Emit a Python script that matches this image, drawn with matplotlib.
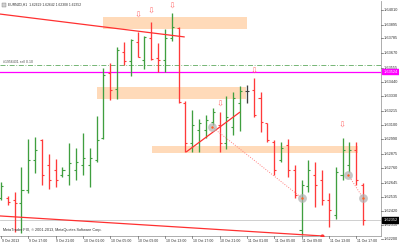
import matplotlib
matplotlib.use("Agg")
import matplotlib.pyplot as plt
import numpy as np

plt.rcParams["font.family"] = ["Liberation Sans", "DejaVu Sans"]

# ---------------- data ----------------
time_labels = ["9 Oct 2013", "9 Oct 17:00", "9 Oct 21:00", "10 Oct 01:00", "10 Oct 05:00",
               "10 Oct 09:00", "10 Oct 13:00", "10 Oct 17:00", "10 Oct 21:00", "11 Oct 01:00",
               "11 Oct 05:00", "11 Oct 09:00", "11 Oct 13:00", "11 Oct 17:00"]
price_ticks = [1.64010, 1.63895, 1.63785, 1.63670, 1.63555, 1.63440, 1.63330, 1.63215, 1.63100,
               1.62990, 1.62875, 1.62760, 1.62645, 1.62535, 1.62420, 1.62310, 1.62200]

opens = [1.62525, 1.62525, 1.62509, 1.62485, 1.62588, 1.62825, 1.62983, 1.62785, 1.62746, 1.62706,
         1.62706, 1.62746, 1.62785, 1.62785, 1.62825, 1.62999, 1.63512, 1.63386, 1.63678, 1.63607,
         1.63757, 1.63615, 1.63789, 1.63631, 1.63615, 1.63789, 1.63868, 1.63275, 1.62959, 1.63062,
         1.63062, 1.63125, 1.63101, 1.62959, 1.63086, 1.63275, 1.63370, 1.63378, 1.63315, 1.63117,
         1.62967, 1.62825, 1.62943, 1.62746, 1.62272, 1.62620, 1.62706, 1.62667, 1.62509, 1.62390,
         1.62706, 1.62785, 1.62904, 1.62629]
highs = [1.62651, 1.62541, 1.62572, 1.62770, 1.62991, 1.63007, 1.62991, 1.62872, 1.62833, 1.62770,
         1.62959, 1.62920, 1.63038, 1.62920, 1.63173, 1.63552, 1.63591, 1.63718, 1.63757, 1.63781,
         1.63836, 1.63805, 1.63915, 1.63749, 1.63860, 1.63986, 1.63876, 1.63291, 1.63220, 1.63149,
         1.63180, 1.63236, 1.63204, 1.63331, 1.63362, 1.63410, 1.63417, 1.63473, 1.63362, 1.63117,
         1.62983, 1.62967, 1.62991, 1.62785, 1.62667, 1.62825, 1.62809, 1.62746, 1.62564, 1.62770,
         1.62999, 1.62967, 1.62967, 1.62642]
lows = [1.62509, 1.62469, 1.62256, 1.62248, 1.62564, 1.62722, 1.62627, 1.62596, 1.62612, 1.62691,
        1.62627, 1.62667, 1.62706, 1.62612, 1.62809, 1.62991, 1.63299, 1.63307, 1.63575, 1.63489,
        1.63639, 1.63544, 1.63615, 1.63520, 1.63520, 1.63765, 1.63275, 1.62888, 1.62888, 1.62888,
        1.62999, 1.63101, 1.62888, 1.62912, 1.63022, 1.63054, 1.63275, 1.63165, 1.63046, 1.62967,
        1.62706, 1.62809, 1.62691, 1.62525, 1.62232, 1.62572, 1.62454, 1.62469, 1.62296, 1.62359,
        1.62667, 1.62730, 1.62627, 1.62308]
closes = [1.62620, 1.62493, 1.62485, 1.62588, 1.62825, 1.62904, 1.62706, 1.62667, 1.62667, 1.62746,
          1.62801, 1.62809, 1.62841, 1.62841, 1.62983, 1.63496, 1.63378, 1.63694, 1.63607, 1.63773,
          1.63639, 1.63797, 1.63623, 1.63615, 1.63789, 1.63876, 1.63283, 1.62959, 1.63101, 1.63117,
          1.63141, 1.63204, 1.62959, 1.63165, 1.63315, 1.63370, 1.63370, 1.63180, 1.63125, 1.62983,
          1.62746, 1.62920, 1.62746, 1.62548, 1.62627, 1.62746, 1.62627, 1.62509, 1.62430, 1.62730,
          1.62904, 1.62904, 1.62667, 1.62352]

# zones (bar index from/to, price low/high)
zone_x0 = [14.9, 14.05, 22.1]
zone_x1 = [36.0, 35.9, 52.3]
zone_lo = [1.63860, 1.63307, 1.62880]
zone_hi = [1.63955, 1.63402, 1.62936]

# trend lines (x0, p0, x1, p1)
upper_line = [-0.15, 1.63978, 26.9, 1.63797]
mid_line = [27.1, 1.62888, 35.0, 1.63204]
lower_line = [-0.15, 1.62383, 47.0, 1.62225]
dot_line1 = [30.9, 1.63086, 44.0, 1.62527]
dot_line2 = [50.85, 1.62706, 53.05, 1.62522]
circle_x = [30.9, 44.0, 50.85, 53.05]
circle_p = [1.63086, 1.62527, 1.62706, 1.62522]

order_price = 1.63573
magenta_price = 1.63524
bid_price = 1.62352

arrow_x = [20, 22, 25, 37, 32, 50]
arrow_p = [1.63970, 1.64002, 1.64042, 1.63528, 1.63267, 1.63101]

# ---------------- figure ----------------
W, H = 399, 249
fig = plt.figure(figsize=(W / 100, H / 100), dpi=100)
ax_left, ax_right, ax_top, ax_bottom = 0, 381, 1, 236
ax = fig.add_axes([ax_left / W, (H - ax_bottom) / H, (ax_right - ax_left) / W, (ax_bottom - ax_top) / H])
px_per_bar = 6.83
x0_px = 1.0
ax.set_xlim((ax_left - x0_px) / px_per_bar, (ax_right - x0_px) / px_per_bar)
p_per_px = 0.000079
p_top = 1.64089
ax.set_ylim(p_top - ax_bottom * p_per_px, p_top - ax_top * p_per_px)
ax.set_xticks([])
ax.set_yticks([])
for s in ax.spines.values():
    s.set_color("#a0a0a0")
    s.set_linewidth(0.6)
ax.spines["top"].set_visible(False)
ax.spines["left"].set_visible(False)

green = "#3f9f3f"
red = "#ff3a3a"
peach = "#ffdab9"

for x0, x1, lo, hi in zip(zone_x0, zone_x1, zone_lo, zone_hi):
    ax.fill_between([x0, x1], lo, hi, color=peach, lw=0, zorder=1)

ax.axhline(bid_price, color="#c8c8c8", lw=0.6, zorder=1.5)
ax.axhline(order_price, color="#5faa5f", lw=0.6, ls=(0, (6, 2, 1, 2)), zorder=1.5)
ax.axhline(magenta_price, color="#ff00ff", lw=0.9, zorder=1.5)

n = len(opens)
for i in range(n):
    o, h, l, c = opens[i], highs[i], lows[i], closes[i]
    col = green if c > o else (red if c < o else "#404040")
    ax.vlines(i, l, h, color=col, lw=0.95, zorder=3)
    ax.hlines(o, i - 0.3, i, color=col, lw=0.8, zorder=3)
    ax.hlines(c, i, i + 0.3, color=col, lw=0.8, zorder=3)

for ln in (upper_line, mid_line, lower_line):
    ax.plot([ln[0], ln[2]], [ln[1], ln[3]], color="#ff3030", lw=0.9, zorder=4, solid_capstyle="butt")
ax.plot(lower_line[2], lower_line[3], "o", color="#ff3030", ms=2, zorder=4)
for ln in (dot_line1, dot_line2):
    ax.plot([ln[0], ln[2]], [ln[1], ln[3]], color="#ff8080", lw=0.7, ls=(0, (1, 1.5)), zorder=4)
ax.scatter(circle_x, circle_p, s=40, color="#b0b0b0", alpha=0.7, lw=0, zorder=5)
ax.scatter(circle_x, circle_p, s=3, color="#ff6020", lw=0, zorder=6)

for x, p in zip(arrow_x, arrow_p):
    ax.text(x, p, "\u21e9", color="#ff7070", fontsize=6, ha="center", va="center", zorder=6,
            family="DejaVu Sans")

# price labels
fs_p = 2.8
for p in price_ticks:
    yfig = (p_top - p) / p_per_px
    fig.text(383.5 / W, 1 - yfig / H, f"{p:.5f}", fontsize=fs_p, color="#303030", va="center", ha="left")
    fig.lines.append(plt.Line2D([381 / W, 383 / W], [1 - yfig / H] * 2, color="#606060", lw=0.5,
                                transform=fig.transFigure))
for p, bg in ((magenta_price, "#ff00ff"), (bid_price, "#000000")):
    yfig = (p_top - p) / p_per_px
    fig.patches.append(plt.Rectangle((382 / W, 1 - (yfig + 2.8) / H), 16.5 / W, 5.6 / H, color=bg,
                                     transform=fig.transFigure, zorder=5))
    fig.text(383.5 / W, 1 - yfig / H, f"{p:.5f}", fontsize=fs_p, color="white", va="center", ha="left",
             zorder=6)

# time labels
for k, lab in enumerate(time_labels):
    xpx = x0_px + 4 * k * px_per_bar
    fig.text((xpx + 0.8) / W, 1 - 240.5 / H, lab, fontsize=2.5, color="#303030", va="center", ha="left")
    fig.lines.append(plt.Line2D([xpx / W] * 2, [1 - 236 / H, 1 - 238 / H], color="#606060", lw=0.5,
                                transform=fig.transFigure))

fig.text(8 / W, 1 - 5 / H, "EURNZD,H1  1.62629 1.62642 1.62308 1.62352", fontsize=2.4, color="#303030",
         va="center", ha="left")
fig.patches.append(plt.Rectangle((2 / W, 1 - 7 / H), 4 / W, 4 / H, facecolor="#d0d0d0", edgecolor="#808080",
                                 lw=0.3, transform=fig.transFigure))
fig.text(3 / W, 1 - 62 / H, "#1956431 sell 0.10", fontsize=2.5, color="#505050", va="center", ha="left")
fig.text(3 / W, 1 - 229.5 / H, "MetaTrader FIX, \u00a9 2001-2013, MetaQuotes Software Corp.", fontsize=2.7,
         color="#303030", va="center", ha="left")

fig.savefig("out.png", dpi=100)
